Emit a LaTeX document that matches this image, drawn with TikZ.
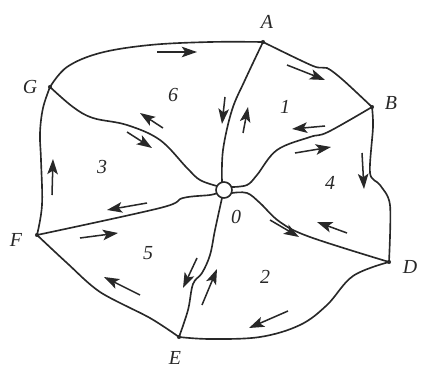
\documentclass[tikz,border=0pt]{standalone}
\usepackage{fontspec}
\setmainfont{Liberation Serif}
\usetikzlibrary{arrows.meta}
\definecolor{ink}{RGB}{40,40,40}
\begin{document}
\begin{tikzpicture}[x=0.03cm,y=-0.03cm,
  edge/.style={draw=ink,line width=1.4pt,line join=round},
  flow/.style={draw=ink,line width=1.3pt,-{Stealth[length=13pt,width=9pt,inset=3pt]}},
  vlabel/.style={font=\fontsize{17}{19}\selectfont\itshape,text=ink,inner sep=0pt},
  rlabel/.style={font=\fontsize{17}{19}\selectfont\itshape,text=ink,inner sep=0pt},
  vdot/.style={circle,fill=ink,inner sep=0pt,minimum size=3.5pt}]
\useasboundingbox (0,0) rectangle (421,369);
% vertices
\coordinate (A) at (263,42);
\coordinate (B) at (372,107);
\coordinate (D) at (389,262);
\coordinate (E) at (179,337);
\coordinate (F) at (37,235);
\coordinate (G) at (50,87);
\coordinate (Oc) at (224,190);
% outer boundary
\draw[edge] plot[smooth,tension=0.6] coordinates {(G) (67,67) (100,53) (150,45) (210,42) (A)};
\draw[edge] plot[smooth,tension=0.5] coordinates {(A) (313,66) (327,68) (343,80) (B)};
\draw[edge] plot[smooth,tension=0.5] coordinates {(B) (373,127) (370,173) (380,185) (390,205) (D)};
\draw[edge] plot[smooth,tension=0.6] coordinates {(D) (353,276) (327,305) (300,325) (260,337) (210,339) (E)};
\draw[edge] plot[smooth,tension=0.5] coordinates {(E) (150,318) (100,292) (67,263) (F)};
\draw[edge] plot[smooth,tension=0.6] coordinates {(F) (42,205) (41,160) (40,133) (43,108) (G)};
% spokes
\draw[edge] plot[smooth,tension=0.6] coordinates {(A) (245,80) (232,110) (223,150) (222,182)};
\draw[edge] plot[smooth,tension=0.6] coordinates {(B) (328,132) (310,137) (277,150) (257,175) (247,185) (232,187)};
\draw[edge] plot[smooth,tension=0.6] coordinates {(D) (310,237) (280,222) (260,203) (247,193) (232,193)};
\draw[edge] plot[smooth,tension=0.6] coordinates {(E) (188,310) (193,284) (202,273) (210,255) (215,230) (222,198)};
\draw[edge] plot[smooth,tension=0.6] coordinates {(F) (160,208) (183,198) (210,195) (217,193)};
\draw[edge] plot[smooth,tension=0.6] coordinates {(G) (73,107) (93,118) (127,125) (160,140) (187,168) (200,180) (217,186)};
% centre hole
\node[circle,draw=ink,fill=white,line width=1.4pt,minimum size=0.48cm,inner sep=0pt] (O) at (Oc) {};
% vertex dots
\foreach \v in {A,B,D,E,F,G} \node[vdot] at (\v) {};
% flow arrows
\draw[flow] (157,52) -- (197,52);
\draw[flow] (287,65) -- (325,80);
\draw[flow] (163,128) -- (140,113);
\draw[flow] (127,132) -- (152,148);
\draw[flow] (225,97) -- (222,124);
\draw[flow] (243,133) -- (248,107);
\draw[flow] (325,126) -- (292,129);
\draw[flow] (295,153) -- (331,147);
\draw[flow] (362,153) -- (364,189);
\draw[flow] (347,233) -- (317,222);
\draw[flow] (270,220) -- (299,237);
\draw[flow] (288,311) -- (249,328);
\draw[flow] (140,295) -- (104,277);
\draw[flow] (80,238) -- (118,233);
\draw[flow] (147,203) -- (107,210);
\draw[flow] (52,195) -- (53,159);
\draw[flow] (197,258) -- (183,288);
\draw[flow] (202,305) -- (217,269);
% vertex labels
\node[vlabel] (lA) at (267,22) {A};
\node[vlabel] (lB) at (391,103) {B};
\node[vlabel] (lD) at (410,267) {D};
\node[vlabel] (lE) at (175,358) {E};
\node[vlabel] (lF) at (16,240) {F};
\node[vlabel] (lG) at (30,87) {G};
\node[vlabel] (lO) at (236,217) {0};
% region labels
\node[rlabel] (r1) at (285,107) {1};
\node[rlabel] (r2) at (265,277) {2};
\node[rlabel] (r3) at (102,167) {3};
\node[rlabel] (r4) at (330,183) {4};
\node[rlabel] (r5) at (148,253) {5};
\node[rlabel] (r6) at (173,95) {6};
\end{tikzpicture}
\end{document}
